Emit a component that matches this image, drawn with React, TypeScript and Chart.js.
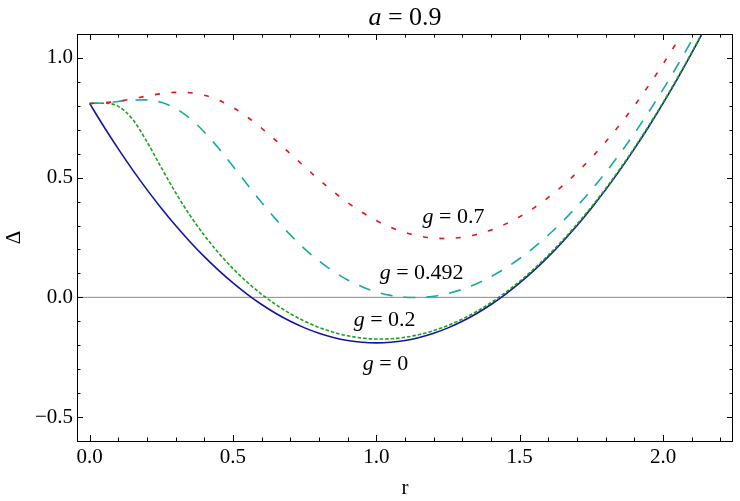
import { useEffect, useRef } from 'react';
import { Chart, registerables } from 'chart.js';

Chart.register(...registerables);

// r grid and Δ(r), one list per g
const rValues = [
  0, 0.05, 0.1, 0.15, 0.2, 0.25, 0.3, 0.35, 0.4, 0.45, 0.5, 0.55, 0.6, 0.65, 0.7,
  0.75, 0.8, 0.85, 0.9, 0.95, 1.0, 1.05, 1.1, 1.15, 1.2, 1.25, 1.3, 1.35, 1.4, 1.45,
  1.5, 1.55, 1.6, 1.65, 1.7, 1.75, 1.8, 1.85, 1.9, 1.95, 2.0, 2.05, 2.1, 2.15, 2.2,
];

const deltaG0 = [
  0.81, 0.7125, 0.62, 0.5325, 0.45, 0.3725, 0.3, 0.2325, 0.17, 0.1125, 0.06, 0.0125,
  -0.03, -0.0675, -0.1, -0.1275, -0.15, -0.1675, -0.18, -0.1875, -0.19, -0.1875, -0.18,
  -0.1675, -0.15, -0.1275, -0.1, -0.0675, -0.03, 0.0125, 0.06, 0.1125, 0.17, 0.2325, 0.3,
  0.3725, 0.45, 0.5325, 0.62, 0.7125, 0.81, 0.9125, 1.02, 1.1325, 1.25,
];

const deltaG02 = [
  0.81, 0.811, 0.7978, 0.7435, 0.65, 0.5418, 0.4371, 0.3426, 0.2589, 0.1851, 0.1202,
  0.063, 0.0129, -0.0307, -0.0681, -0.0996, -0.1254, -0.1456, -0.1605, -0.1699, -0.1741,
  -0.1731, -0.1669, -0.1555, -0.1389, -0.1173, -0.0906, -0.0588, -0.0219, 0.0201, 0.0671,
  0.1191, 0.1762, 0.2384, 0.3055, 0.3777, 0.4549, 0.5372, 0.6244, 0.7167, 0.814, 0.9163,
  1.0236, 1.136, 1.2533,
];

const deltaG0492 = [
  0.81, 0.8124, 0.8183, 0.8242, 0.8248, 0.8145, 0.7891, 0.7472, 0.6904, 0.6224, 0.5479,
  0.4714, 0.3965, 0.3257, 0.2608, 0.2027, 0.1519, 0.1086, 0.0728, 0.0442, 0.0228, 0.0084,
  0.0007, -0.0005, 0.0048, 0.0162, 0.0337, 0.0572, 0.0865, 0.1215, 0.1623, 0.2086, 0.2604,
  0.3177, 0.3805, 0.4486, 0.522, 0.6008, 0.6849, 0.7742, 0.8687, 0.9684, 1.0733, 1.1834,
  1.2987,
];

const deltaG07 = [
  0.81, 0.8125, 0.8194, 0.8296, 0.8409, 0.8507, 0.8562, 0.8547, 0.8442, 0.8236, 0.7929,
  0.7532, 0.7063, 0.6545, 0.6, 0.5452, 0.4919, 0.4417, 0.3959, 0.3554, 0.3208, 0.2925,
  0.2708, 0.2558, 0.2475, 0.246, 0.2511, 0.2629, 0.2811, 0.3058, 0.3368, 0.374, 0.4173,
  0.4666, 0.5219, 0.583, 0.65, 0.7226, 0.801, 0.885, 0.9744, 1.0695, 1.17, 1.276, 1.3873,
];

const xTicks = [0, 0.5, 1, 1.5, 2];
const yTicks = [-0.5, 0, 0.5, 1];

const FONT = "'Liberation Serif', 'DejaVu Serif', serif";

// later entries are drawn first, so blue ends up at the bottom
const SERIES = [
  { label: 'g = 0.7', data: deltaG07, color: '#e3141f', dash: [5, 11.5] },
  { label: 'g = 0.492', data: deltaG0492, color: '#1aa8a0', dash: [12, 11] },
  { label: 'g = 0.2', data: deltaG02, color: '#18a318', dash: [3.5, 2] },
  { label: 'g = 0', data: deltaG0, color: '#1414a0', dash: [] as number[] },
];

// text anchors in data units: x = centre, y = baseline
const curveLabels = [
  { g: '0.7', x: 1.269, y: 0.311 },
  { g: '0.492', x: 1.158, y: 0.077 },
  { g: '0.2', x: 1.029, y: -0.118 },
  { g: '0', x: 1.032, y: -0.302 },
];

const fmt = (v: number) => (v < 0 ? '\u2212' + Math.abs(v).toFixed(1) : v.toFixed(1));

function drawMath(ctx: CanvasRenderingContext2D, sym: string, rest: string, cx: number, by: number, size: number) {
  ctx.font = `italic ${size}px ${FONT}`;
  const w1 = ctx.measureText(sym).width;
  ctx.font = `${size}px ${FONT}`;
  const w2 = ctx.measureText(rest).width;
  const x0 = cx - (w1 + w2) / 2;
  ctx.textAlign = 'left';
  ctx.textBaseline = 'alphabetic';
  ctx.fillStyle = '#000';
  ctx.font = `italic ${size}px ${FONT}`;
  ctx.fillText(sym, x0, by);
  ctx.font = `${size}px ${FONT}`;
  ctx.fillText(rest, x0 + w1, by);
}

const framePlugin = {
  id: 'frame',
  beforeDatasetsDraw(chart: any) {
    const { ctx, chartArea: a, scales } = chart;
    const y0 = scales.y.getPixelForValue(0);
    ctx.save();
    ctx.strokeStyle = '#888';
    ctx.lineWidth = 1;
    ctx.beginPath();
    ctx.moveTo(a.left, y0);
    ctx.lineTo(a.right, y0);
    ctx.stroke();
    ctx.restore();
  },
  afterDraw(chart: any) {
    const { ctx, chartArea: a, scales } = chart;
    const xs = scales.x;
    const ys = scales.y;
    ctx.save();
    ctx.strokeStyle = '#000';
    ctx.lineWidth = 1;
    ctx.strokeRect(a.left + 0.5, a.top + 0.5, a.right - a.left - 1, a.bottom - a.top);

    ctx.beginPath();
    for (let k = 0; k <= 22; k++) {
      const v = k / 10;
      const len = k % 5 === 0 ? 6 : 3.5;
      const px = Math.round(xs.getPixelForValue(v)) + 0.5;
      ctx.moveTo(px, a.bottom);
      ctx.lineTo(px, a.bottom - len);
      ctx.moveTo(px, a.top);
      ctx.lineTo(px, a.top + len);
    }
    for (let k = -5; k <= 10; k++) {
      const v = k / 10;
      const len = k % 5 === 0 ? 6 : 3.5;
      const py = Math.round(ys.getPixelForValue(v)) + 0.5;
      ctx.moveTo(a.left, py);
      ctx.lineTo(a.left + len, py);
      ctx.moveTo(a.right, py);
      ctx.lineTo(a.right - len, py);
    }
    ctx.stroke();

    drawMath(ctx, 'a', ' = 0.9', (a.left + a.right) / 2, 25, 26);
    for (const l of curveLabels) {
      drawMath(ctx, 'g', ' = ' + l.g, xs.getPixelForValue(l.x), ys.getPixelForValue(l.y), 22);
    }
    ctx.restore();
  },
};

export default function App() {
  const canvasRef = useRef<HTMLCanvasElement>(null);
  const chartRef = useRef<Chart | null>(null);

  useEffect(() => {
    if (!canvasRef.current) return;
    if (chartRef.current) chartRef.current.destroy();

    chartRef.current = new Chart(canvasRef.current, {
      type: 'line',
      data: {
        datasets: SERIES.map((s) => ({
          label: s.label,
          data: rValues.map((r, i) => ({ x: r, y: s.data[i] })),
          borderColor: s.color,
          borderWidth: 1.6,
          borderDash: s.dash,
          pointRadius: 0,
          fill: false,
          cubicInterpolationMode: 'monotone' as const,
        })),
      },
      options: {
        responsive: false,
        animation: false,
        layout: { padding: { top: 34, right: 7, left: 0, bottom: 0 } },
        plugins: {
          legend: { display: false },
          tooltip: { enabled: false },
          title: { display: false },
        },
        scales: {
          x: {
            type: 'linear',
            min: -0.044,
            max: 2.244,
            afterBuildTicks: (s: any) => {
              s.ticks = xTicks.map((v) => ({ value: v }));
            },
            afterFit: (s: any) => {
              s.height = 60;
            },
            grid: { display: false, drawTicks: false },
            border: { display: false },
            ticks: {
              color: '#000',
              font: { family: FONT, size: 21 },
              padding: 4,
              maxRotation: 0,
              autoSkip: false,
              callback: (v: any) => fmt(Number(v)),
            },
            title: {
              display: true,
              text: 'r',
              color: '#000',
              font: { family: FONT, size: 21 },
              padding: { top: 0, bottom: 0 },
            },
          },
          y: {
            type: 'linear',
            min: -0.6,
            max: 1.1,
            afterBuildTicks: (s: any) => {
              s.ticks = yTicks.map((v) => ({ value: v }));
            },
            afterFit: (s: any) => {
              s.width = 77;
            },
            grid: { display: false, drawTicks: false },
            border: { display: false },
            ticks: {
              color: '#000',
              font: { family: FONT, size: 21 },
              padding: 4,
              autoSkip: false,
              callback: (v: any) => fmt(Number(v)),
            },
            title: {
              display: true,
              text: '\u0394',
              color: '#000',
              font: { family: FONT, size: 21 },
              padding: { top: 2, bottom: 0 },
            },
          },
        },
      },
      plugins: [framePlugin],
    });

    return () => chartRef.current?.destroy();
  }, []);

  return (
    <div style={{ position: 'fixed', left: 0, top: 0, width: 740, height: 501, background: '#fff' }}>
      <canvas ref={canvasRef} width={740} height={501} />
    </div>
  );
}
